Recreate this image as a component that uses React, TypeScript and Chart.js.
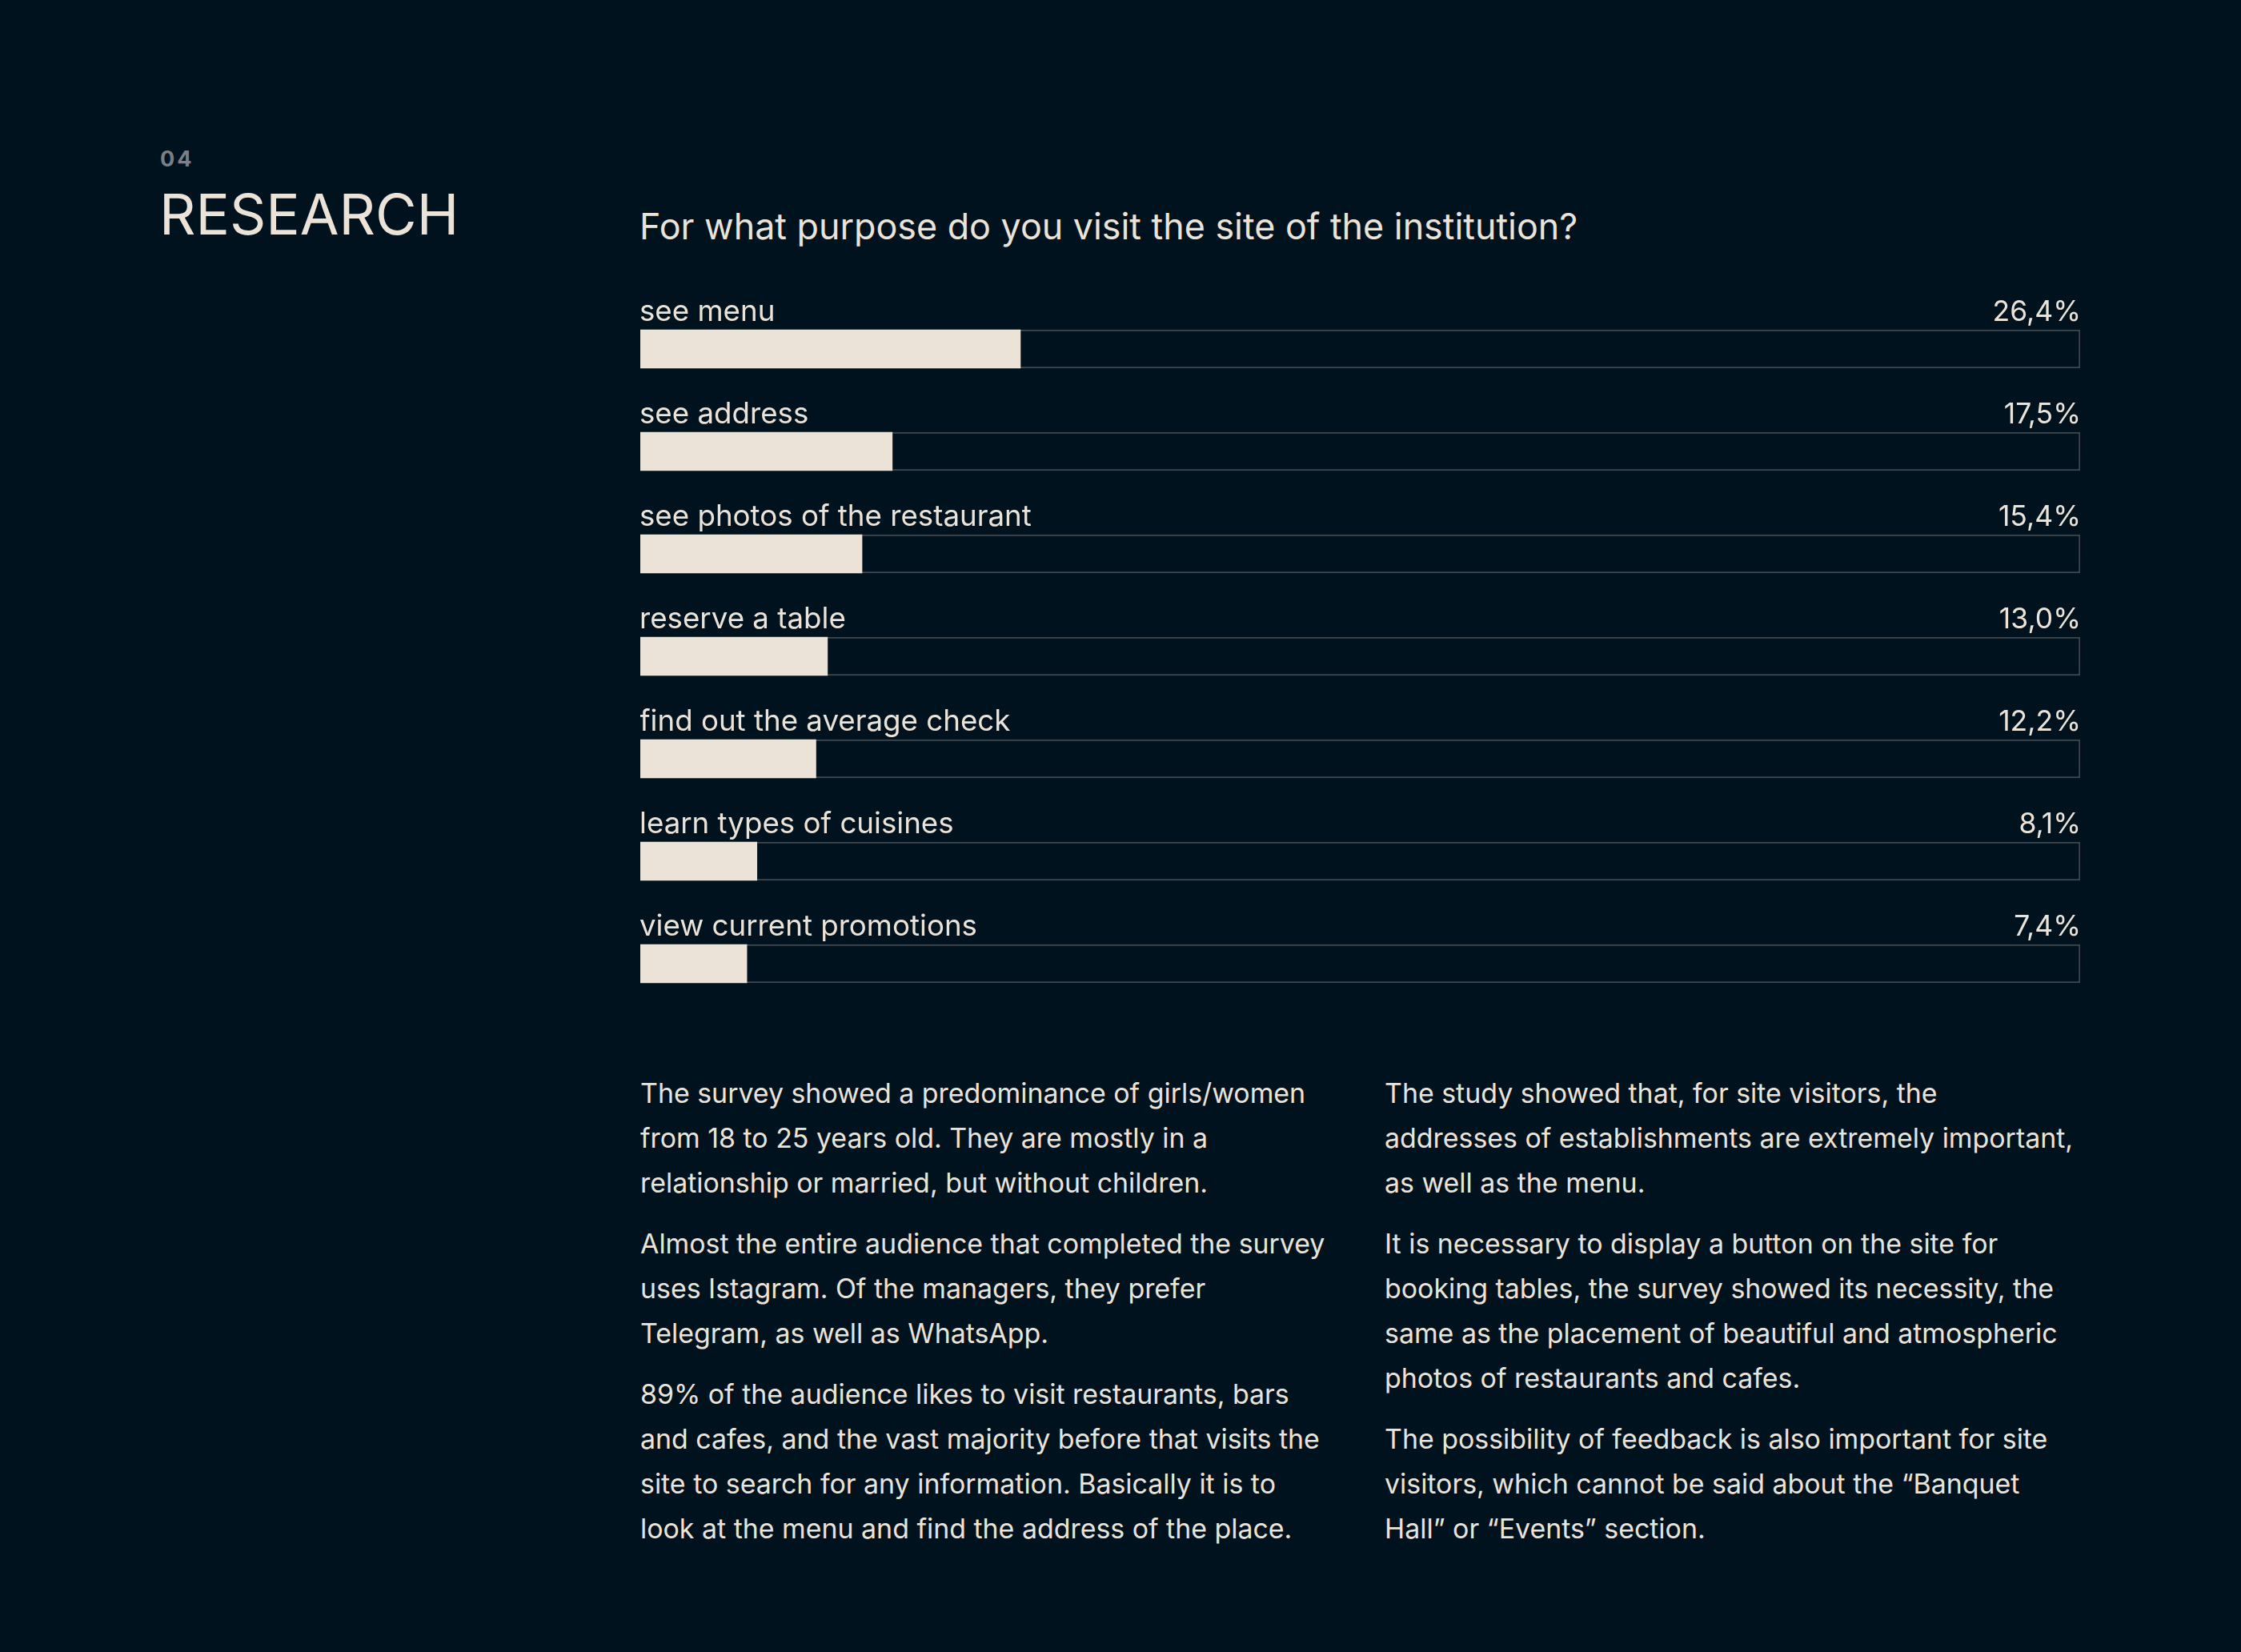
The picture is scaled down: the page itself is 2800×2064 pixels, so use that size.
import React, { useEffect, useRef } from "react";
import { Chart, registerables } from "chart.js";

Chart.register(...registerables);

const categories = [
  "see menu",
  "see address",
  "see photos of the restaurant",
  "reserve a table",
  "find out the average check",
  "learn types of cuisines",
  "view current promotions",
];
const values = [26.4, 17.5, 15.4, 13.0, 12.2, 8.1, 7.4];
const valueLabels = ["26,4%", "17,5%", "15,4%", "13,0%", "12,2%", "8,1%", "7,4%"];
const trackValues = categories.map(() => 100);

const leftParagraphs = [
  [
    "The survey showed a predominance of girls/women",
    "from 18 to 25 years old. They are mostly in a",
    "relationship or married, but without children.",
  ],
  [
    "Almost the entire audience that completed the survey",
    "uses Istagram. Of the managers, they prefer",
    "Telegram, as well as WhatsApp.",
  ],
  [
    "89% of the audience likes to visit restaurants, bars",
    "and cafes, and the vast majority before that visits the",
    "site to search for any information. Basically it is to",
    "look at the menu and find the address of the place.",
  ],
];
const rightParagraphs = [
  [
    "The study showed that, for site visitors, the",
    "addresses of establishments are extremely important,",
    "as well as the menu.",
  ],
  [
    "It is necessary to display a button on the site for",
    "booking tables, the survey showed its necessity, the",
    "same as the placement of beautiful and atmospheric",
    "photos of restaurants and cafes.",
  ],
  [
    "The possibility of feedback is also important for site",
    "visitors, which cannot be said about the \u201CBanquet",
    "Hall\u201D or \u201CEvents\u201D section.",
  ],
];

const BG = "#01121F";
const CREAM = "#EBE3D7";
const TRACK = "#3E474E";
const FONT = "Inter, 'Noto Sans', sans-serif";

const labelPlugin = {
  id: "rowLabels",
  afterDatasetsDraw(chart: any) {
    const ctx = chart.ctx;
    const meta = chart.getDatasetMeta(1);
    const area = chart.chartArea;
    ctx.save();
    ctx.fillStyle = CREAM;
    ctx.textBaseline = "alphabetic";
    meta.data.forEach((bar: any, i: number) => {
      const y = bar.y - 35;
      ctx.font = `400 36.7px ${FONT}`;
      ctx.textAlign = "left";
      ctx.fillText(categories[i], area.left - 1, y);
      ctx.font = `400 35.5px ${FONT}`;
      ctx.textAlign = "right";
      ctx.fillText(valueLabels[i], area.right + 1, y);
    });
    ctx.restore();
  },
};

function BarChart() {
  const ref = useRef<HTMLCanvasElement | null>(null);
  useEffect(() => {
    if (!ref.current) return;
    const chart = new Chart(ref.current, {
      type: "bar",
      data: {
        labels: categories,
        datasets: [
          {
            label: "value",
            data: values,
            backgroundColor: CREAM,
            borderWidth: 0,
            barThickness: 48,
            grouped: false,
            order: 0,
          } as any,
          {
            label: "track",
            data: trackValues,
            backgroundColor: BG,
            borderColor: TRACK,
            borderWidth: 2,
            borderSkipped: false,
            barThickness: 48,
            grouped: false,
            order: 1,
          } as any,
        ],
      },
      options: {
        indexAxis: "y",
        animation: false,
        responsive: false,
        maintainAspectRatio: false,
        devicePixelRatio: 1,
        layout: { padding: { left: 0, right: 2, top: 0, bottom: 0 } },
        plugins: {
          legend: { display: false },
          tooltip: { enabled: false },
          title: { display: false },
        },
        scales: {
          x: { type: "linear", min: 0, max: 100, display: false },
          y: { type: "category", offset: true, display: false },
        },
      } as any,
      plugins: [labelPlugin],
    });
    return () => chart.destroy();
  }, []);
  return (
    <canvas
      ref={ref}
      width={1801}
      height={896}
      style={{ position: "absolute", left: 800, top: 372, width: 1801, height: 896 }}
    />
  );
}

function Column({ paras, left }: { paras: string[][]; left: number }) {
  return (
    <div
      style={{
        position: "absolute",
        left,
        top: 1338,
        width: 880,
        fontFamily: FONT,
        fontSize: 33.9,
        lineHeight: "56px",
        color: CREAM,
        whiteSpace: "nowrap",
      }}
    >
      {paras.map((lines, i) => (
        <p key={i} style={{ margin: 0, marginBottom: 20 }}>
          {lines.map((l, j) => (
            <React.Fragment key={j}>
              {l}
              {j < lines.length - 1 ? <br /> : null}
            </React.Fragment>
          ))}
        </p>
      ))}
    </div>
  );
}

export default function App() {
  useEffect(() => {
    document.body.style.margin = "0";
    document.body.style.background = BG;
  }, []);
  return (
    <div
      style={{
        position: "absolute",
        left: 0,
        top: 0,
        width: 2800,
        height: 2064,
        background: BG,
        overflow: "hidden",
        fontFamily: FONT,
      }}
    >
      <div
        style={{
          position: "absolute",
          left: 200,
          top: 185,
          fontSize: 27,
          lineHeight: "27px",
          fontWeight: 700,
          letterSpacing: 3,
          color: "#7B8086",
        }}
      >
        04
      </div>
      <div
        style={{
          position: "absolute",
          left: 199,
          top: 233,
          fontSize: 70.7,
          lineHeight: "70.7px",
          fontWeight: 400,
          color: CREAM,
        }}
      >
        RESEARCH
      </div>
      <div
        style={{
          position: "absolute",
          left: 799,
          top: 261,
          fontSize: 44.8,
          lineHeight: "44.8px",
          fontWeight: 400,
          color: CREAM,
          whiteSpace: "nowrap",
        }}
      >
        For what purpose do you visit the site of the institution?
      </div>
      <BarChart />
      <Column paras={leftParagraphs} left={800} />
      <Column paras={rightParagraphs} left={1730} />
    </div>
  );
}
